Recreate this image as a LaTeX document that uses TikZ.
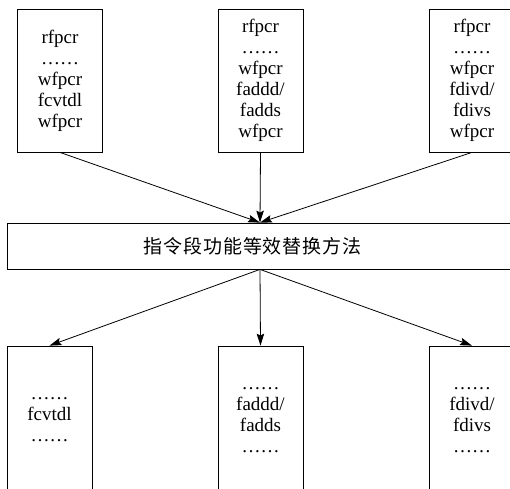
\documentclass[tikz,border=0pt]{standalone}
\usepackage{fontspec}
\setmainfont{Liberation Serif}
\newfontfamily\cjk[LetterSpace=5]{Noto Sans CJK SC}
\usetikzlibrary{arrows.meta}

\begin{document}
\begin{tikzpicture}[x=1pt, y=-1pt, >={Stealth[length=12pt,width=7.5pt,inset=2pt]},
    codebox/.style={draw, line width=0.8pt, align=center, inner sep=0pt,
      minimum width=85pt, font=\fontsize{19}{21}\selectfont},
    methodbox/.style={draw, line width=0.8pt, inner sep=0pt,
      minimum width=506pt, minimum height=46pt, font=\cjk\fontsize{19}{21}\selectfont}]
  \fill[white] (0,0) rectangle (510,488);
  \useasboundingbox (0,0) rectangle (510,488);
  % original instruction segments
  \node[codebox, minimum height=143pt] (srcA) at (60,80.5)
    {rfpcr\\……\\wfpcr\\fcvtdl\\wfpcr};
  \node[codebox, minimum height=143pt] (srcB) at (260.5,80.5)
    {rfpcr\\……\\wfpcr\\faddd/\\fadds\\wfpcr};
  \node[codebox, minimum height=143pt] (srcC) at (472,80.5)
    {rfpcr\\……\\wfpcr\\fdivd/\\fdivs\\wfpcr};
  % replacement method
  \node[methodbox] (method) at (260,246) {\kern-15pt 指令段功能等效替换方法};
  % resulting segments
  \node[codebox, minimum height=148pt] (dstA) at (49.5,420)
    {……\\fcvtdl\\……};
  \node[codebox, minimum height=148pt] (dstB) at (260.5,420)
    {……\\faddd/\\fadds\\……};
  \node[codebox, minimum height=148pt] (dstC) at (472,420)
    {……\\fdivd/\\fdivs\\……};
  \draw[->, line width=0.8pt] (srcA.south) -- (method.north);
  \draw[->, line width=0.8pt] (srcB.south) -- (method.north);
  \draw[->, line width=0.8pt] (srcC.south) -- (method.north);
  \draw[->, line width=0.8pt] (method.south) -- (dstA.north);
  \draw[->, line width=0.8pt] (method.south) -- (dstB.north);
  \draw[->, line width=0.8pt] (method.south) -- (dstC.north);
\end{tikzpicture}
\end{document}
